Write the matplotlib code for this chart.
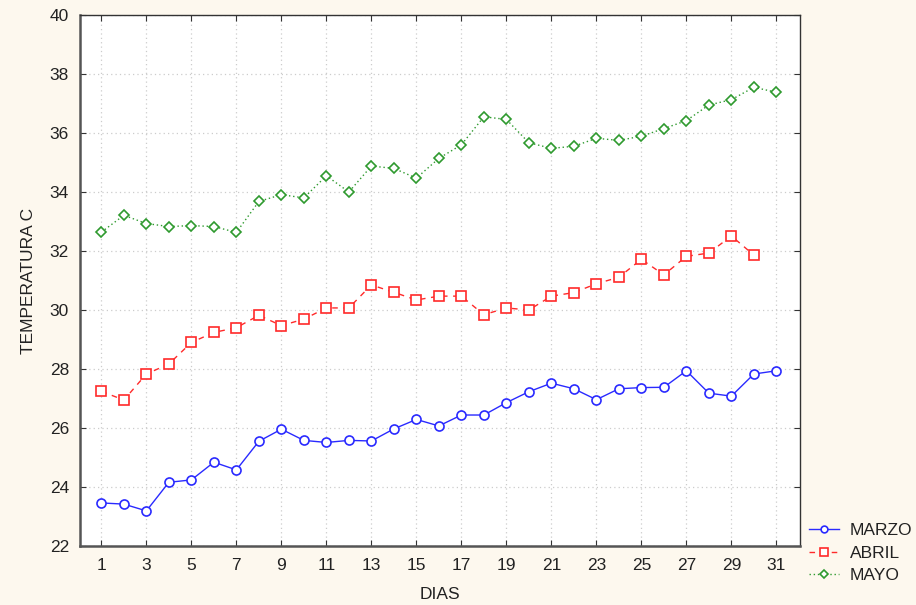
import matplotlib
matplotlib.use("Agg")
import matplotlib.pyplot as plt

plt.rcParams['font.family'] = ['Liberation Sans', 'DejaVu Sans']

days = list(range(1, 32))
marzo = [23.46, 23.42, 23.19, 24.16, 24.24, 24.84, 24.58, 25.55, 25.96, 25.58,
         25.51, 25.58, 25.56, 25.97, 26.29, 26.07, 26.44, 26.44, 26.86, 27.23,
         27.52, 27.33, 26.96, 27.33, 27.37, 27.38, 27.94, 27.18, 27.08, 27.83, 27.94]
abril_days = list(range(1, 31))
abril = [27.24, 26.95, 27.83, 28.17, 28.90, 29.24, 29.40, 29.82, 29.47, 29.69,
         30.07, 30.07, 30.85, 30.60, 30.34, 30.47, 30.47, 29.84, 30.07, 30.00,
         30.47, 30.59, 30.89, 31.11, 31.72, 31.19, 31.82, 31.93, 32.51, 31.86]
mayo = [32.64, 33.21, 32.93, 32.83, 32.86, 32.83, 32.63, 33.68, 33.91, 33.80,
        34.55, 34.00, 34.88, 34.80, 34.47, 35.14, 35.60, 36.55, 36.46, 35.67,
        35.48, 35.55, 35.82, 35.75, 35.89, 36.15, 36.42, 36.95, 37.13, 37.55, 37.38]
xticks = list(range(1, 32, 2))
yticks = list(range(22, 41, 2))

W, H = 916, 605
fig = plt.figure(figsize=(W / 100, H / 100), dpi=100, facecolor='#fdf8ee')
ax = fig.add_axes([80 / W, (H - 546) / H, 720 / W, 531 / H])
ax.set_facecolor('white')

ax.plot(days, marzo, color='#2a2aff', lw=1.0, ls='-', marker='o', ms=6.5,
        mfc='white', mec='#2a2aff', mew=1.2, label='MARZO', zorder=3)
ax.plot(abril_days, abril, color='#ff2a2a', lw=1.0, ls=(0, (4, 4)), marker='s', ms=7,
        mfc='white', mec='#ff2a2a', mew=1.2, label='ABRIL', zorder=3)
ax.plot(days, mayo, color='#2e9a2e', lw=1.0, ls=(0, (1, 2)), marker='D', ms=5.5,
        mfc='white', mec='#2e9a2e', mew=1.2, label='MAYO', zorder=3)

ax.set_xlim(0.05, 32.05)
ax.set_ylim(22, 40)
ax.set_xticks(xticks)
ax.set_yticks(yticks)
ax.tick_params(axis='both', direction='in', labelsize=12.5, colors='#333333',
               length=4, labelcolor='#222222')
ax.tick_params(axis='y', right=True, left=True, pad=8)
ax.tick_params(axis='x', top=True, bottom=True, pad=9)
ax.grid(True, color='#cccccc', ls=(0, (1, 2.5)), lw=0.9)
for s in ax.spines.values():
    s.set_color('#333333')
    s.set_linewidth(1.0)
ax.spines['left'].set_linewidth(1.8)
ax.spines['bottom'].set_linewidth(1.8)
ax.spines['left'].set_color('#555555')
ax.spines['bottom'].set_color('#555555')

ax.set_xlabel('DIAS', fontsize=12.5, color='#222222', labelpad=10)
ax.set_ylabel('TEMPERATURA C', fontsize=12.5, color='#222222', labelpad=10)

leg = fig.legend(loc='upper left', bbox_to_anchor=(809 / W, 1 - 523 / H),
                 frameon=False, fontsize=12.5, handlelength=1.7, markerscale=0.75,
                 handletextpad=0.65, labelspacing=0.42, borderaxespad=0,
                 borderpad=0)
for t in leg.get_texts():
    t.set_color('#222222')

fig.savefig('out.png', dpi=100, facecolor=fig.get_facecolor())
